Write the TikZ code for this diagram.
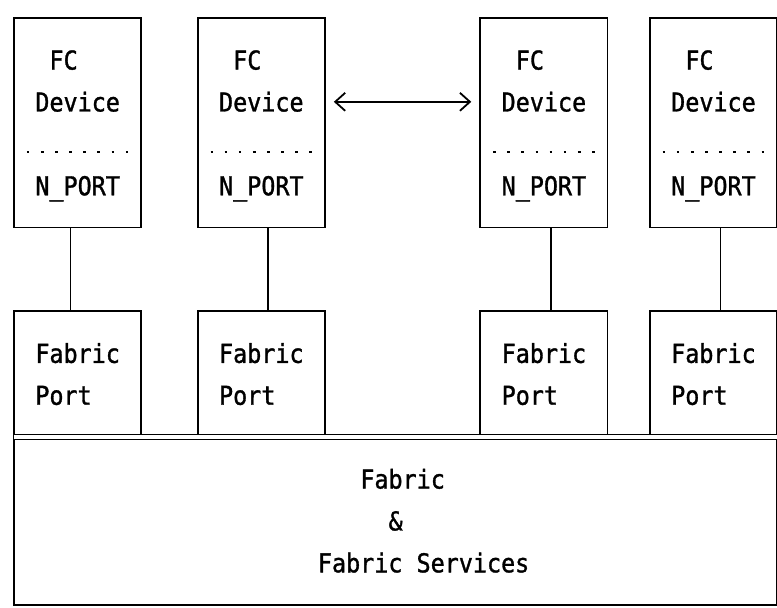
\documentclass[tikz,border=0pt]{standalone}
\usepackage{fontspec}
\setmonofont[FakeStretch=0.9, FakeBold=1.2]{DejaVu Sans Mono}
\usetikzlibrary{arrows.meta, calc}

\begin{document}
\begin{tikzpicture}[x=14.13pt, y=-41.9pt,
    box/.style={draw, line width=1.8pt, inner sep=0pt, outer sep=0pt},
    devbox/.style={box, minimum width=127.17pt, minimum height=209.5pt},
    portbox/.style={box, minimum width=127.17pt, minimum height=125.7pt},
    txt/.style={font=\ttfamily\fontsize{26}{26}\selectfont, inner sep=0pt, anchor=base west},
    link/.style={line width=1.8pt},
    >={Straight Barb[length=10pt, width=18pt]}]
    \useasboundingbox (-0.99,-0.43) rectangle (54,14.06);

    % Fabric and its services
    \node[box, minimum width=763.02pt, minimum height=167.6pt] (fabric) at (27,12) {};
    \node[txt] (fab1) at (24.5,11.23) {Fabric};
    \node[txt] (fab2) at (26.5,12.23) {\&};
    \node[txt] (fab3) at (21.5,13.23) {Fabric Services};

    % FC devices and their fabric ports
    \foreach \n/\x/\c in {1/0/4, 2/13/5, 3/33/5, 4/45/5} {
        \node[devbox] (dev\n) at (\x+4.5,2.5) {};
        \node[txt] (fc\n) at (\x+2.5,1.23) {FC};
        \node[txt] (dname\n) at (\x+1.5,2.23) {Device};
        \node[txt] (nport\n) at (\x+1.5,4.23) {N\_PORT};
        \draw[line width=2.6pt, dash pattern=on 2.6pt off 11.53pt] (\x+0.91,3.2) -- (\x+8.1,3.2);
        \node[portbox] (port\n) at (\x+4.5,8.5) {};
        \node[txt] (fp\n) at (\x+1.5,8.23) {Fabric};
        \node[txt] (pt\n) at (\x+1.5,9.23) {Port};
        \draw[link] ($(dev\n.south west)+(\c,0)$) -- ($(port\n.north west)+(\c,0)$);
    }

    % Shared fabric edge
    \draw[double, double distance=3.5pt, line width=1.4pt] (fabric.north west) -- (fabric.north east);

    % Device to device
    \draw[<->, link, shorten <=9pt, shorten >=9pt] ($(dev2.north east)+(0,2)$) -- ($(dev3.north west)+(0,2)$);
\end{tikzpicture}
\end{document}
